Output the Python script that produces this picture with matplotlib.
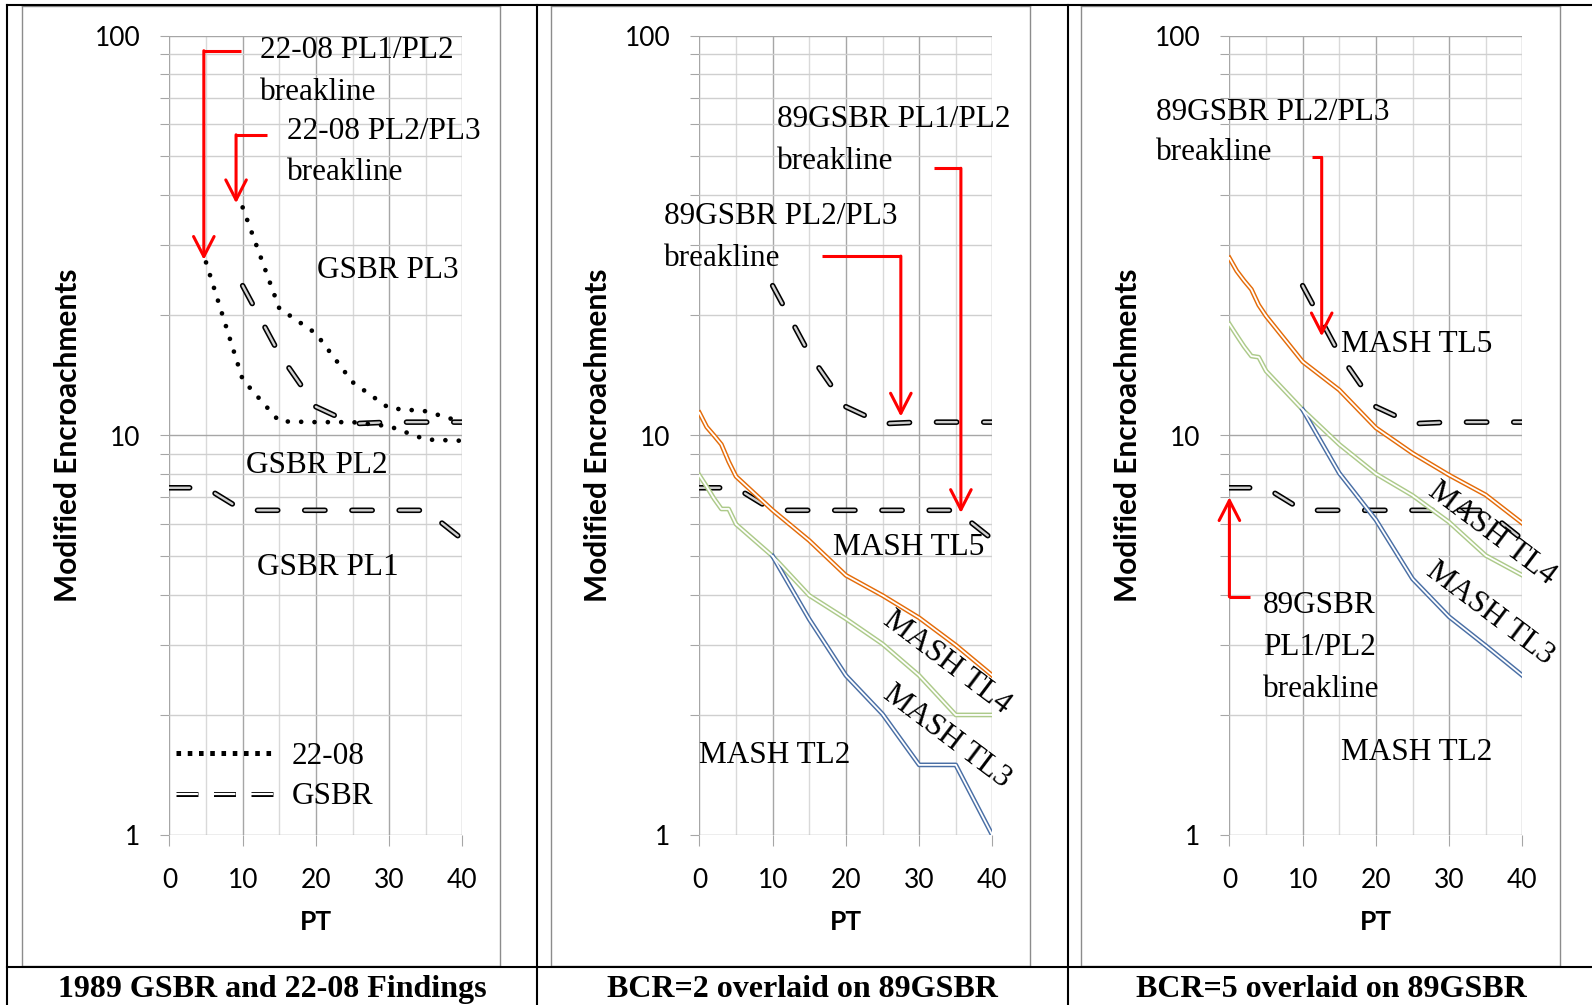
import matplotlib
matplotlib.use("Agg")
import matplotlib.pyplot as plt
from matplotlib.lines import Line2D
from matplotlib.ticker import FixedLocator, NullFormatter, LogLocator
from matplotlib.legend_handler import HandlerTuple

plt.rcParams['lines.scale_dashes'] = False
plt.rcParams['font.family'] = ['Lato', 'DejaVu Sans']

# ---------------- data ----------------
pt_gsbr12 = [0, 5, 10, 15, 20, 25, 30, 35, 40]
gsbr_pl1_pl2 = [7.4, 7.4, 6.5, 6.5, 6.5, 6.5, 6.5, 6.5, 5.5]
pt_gsbr23 = [10, 15, 20, 25, 30, 35, 40]
gsbr_pl2_pl3 = [23.7, 16.0, 11.8, 10.7, 10.8, 10.8, 10.8]

pt_2208_a = [5, 10, 15, 20, 25, 30, 35, 40]
r2208_pl1_pl2 = [27.1, 13.8, 10.85, 10.8, 10.8, 10.55, 9.77, 9.7]
pt_2208_b = [10, 15, 20, 25, 30, 35, 40]
r2208_pl2_pl3 = [37.2, 20.8, 18.0, 13.6, 11.7, 11.5, 10.8]

pt_mash = [0, 1, 2, 3, 4, 5, 10, 15, 20, 25, 30, 35, 40]
pt_tl23 = [10, 15, 20, 25, 30, 35, 40]
bcr2_tl45 = [11.4, 10.5, 10.0, 9.5, 8.6, 7.9, 6.5, 5.46, 4.47, 3.98, 3.50, 2.99, 2.51]
bcr2_tl34 = [7.95, 7.45, 6.95, 6.55, 6.55, 6.0, 4.99, 3.98, 3.48, 3.01, 2.51, 2.0, 2.0]
bcr2_tl23 = [4.99, 3.47, 2.51, 2.01, 1.50, 1.50, 1.0]
bcr5_tl45 = [27.8, 25.8, 24.4, 23.2, 21.2, 19.9, 15.3, 13.0, 10.45, 9.03, 7.96, 7.1, 6.03]
bcr5_tl34 = [19.0, 17.8, 16.7, 15.8, 15.7, 14.5, 11.6, 9.5, 8.02, 7.08, 6.07, 5.01, 4.47]
bcr5_tl23 = [11.6, 8.05, 6.15, 4.38, 3.52, 2.98, 2.51]

x_ticks = [0, 10, 20, 30, 40]
x_minor = [5, 15, 25, 35]
y_ticks = [1, 10, 100]
y_tick_labels = ['1', '10', '100']
captions = ['1989 GSBR and 22-08 Findings',
            'BCR=2 overlaid on 89GSBR',
            'BCR=5 overlaid on 89GSBR']

C_ORANGE = '#E46C0A'
C_GREEN = '#ADCA8A'
C_BLUE = '#4A6FA5'
C_RED = '#FF0000'
SERIF = ['Liberation Serif', 'DejaVu Serif']
ANN_FS = 22.5

W, H, DPI = 1592, 1005, 100
fig = plt.figure(figsize=(W / DPI, H / DPI), dpi=DPI)
fig.patch.set_facecolor('white')


def fx(px):
    return px / W


def fy(py):
    return 1 - py / H


# ---------------- table / frames ----------------
def fline(x0, y0, x1, y1, color='black', lw=1.5):
    fig.add_artist(Line2D([fx(x0), fx(x1)], [fy(y0), fy(y1)], transform=fig.transFigure,
                          color=color, lw=lw, solid_capstyle='projecting'))


for l, r in [(21.7, 500), (550.8, 1030), (1081, 1560)]:
    for seg in [(l, 6.5, r, 6.5), (l, 965.5, r, 965.5), (l, 6.5, l, 965.5), (r, 6.5, r, 965.5)]:
        fline(*seg, color='#8c8c8c', lw=1.0)

fline(6.5, 5, 1600, 5)
fline(6.5, 5, 6.5, 1010)
fline(537, 5, 537, 1010)
fline(1067.5, 5, 1067.5, 1010)
fline(6.5, 967, 1600, 967)

for cx, cap in zip([272, 802, 1331], captions):
    fig.text(fx(cx), fy(996.5), cap, ha='center', va='baseline', family=SERIF,
             weight='bold', fontsize=23)

# ---------------- axes ----------------
axes = []
for i in range(3):
    left = 169.4 + 530 * i
    ax = fig.add_axes([fx(left), fy(835.3), 293 / W, (835.3 - 35.7) / H])
    ax.set_yscale('log')
    ax.set_xlim(0, 40)
    ax.set_ylim(1, 100)
    ax.set_xticks(x_ticks)
    ax.xaxis.set_minor_locator(FixedLocator(x_minor))
    ax.set_yticks(y_ticks)
    ax.set_yticklabels(y_tick_labels)
    ax.yaxis.set_minor_locator(LogLocator(base=10, subs=range(2, 10)))
    ax.yaxis.set_minor_formatter(NullFormatter())
    for s in ax.spines.values():
        s.set_visible(False)
    ax.set_axisbelow(True)
    ax.xaxis.grid(True, which='major', color='#a6a6a6', lw=1.0)
    ax.xaxis.grid(True, which='minor', color='#d9d9d9', lw=1.0)
    ax.yaxis.grid(True, which='major', color='#a6a6a6', lw=1.0)
    ax.yaxis.grid(True, which='minor', color='#cfcfcf', lw=1.0)
    ax.tick_params(axis='y', which='both', direction='out', length=6.5, width=0.8,
                   color='#a6a6a6', pad=14.5, labelsize=19)
    ax.tick_params(axis='x', which='major', direction='out', length=8, width=0.8,
                   color='#a6a6a6', pad=15.5, labelsize=19)
    ax.tick_params(axis='x', which='minor', length=0)
    ax.set_ylabel('Modified Encroachments', fontsize=21.5, fontweight='bold', va='center')
    ax.yaxis.set_label_coords(-0.346, 0.5)
    ax.set_xlabel('PT', fontsize=19, fontweight='bold', va='center')
    ax.xaxis.set_label_coords(0.5, -0.1084)
    axes.append(ax)


def gsbr_line(ax, x, y, dashes=(14.6, 19.4)):
    a = ax.plot(x, y, color='black', lw=4.0, dashes=dashes, dash_capstyle='round',
                zorder=3)[0]
    b = ax.plot(x, y, color='#d0d0d0', lw=1.7, dashes=dashes, dash_capstyle='round',
                zorder=3.1)[0]
    return a, b


def dotted_line(ax, x, y):
    return ax.plot(x, y, color='black', lw=3.4, dashes=(0.01, 9.6),
                   dash_capstyle='round', zorder=3.5)[0]


def mash_line(ax, x, y, c):
    ax.plot(x, y, color=c, lw=3.4, zorder=4)
    ax.plot(x, y, color='white', lw=1.3, zorder=4.1)


def red_arrow(ax, start, corner, tip):
    ax.plot([start[0], corner[0]], [start[1], corner[1]], color=C_RED, lw=2.2,
            solid_capstyle='butt', zorder=6)
    ax.annotate('', xy=tip, xytext=corner,
                arrowprops=dict(arrowstyle='->,head_length=1.44,head_width=0.74',
                                color=C_RED, lw=2.2, shrinkA=0, shrinkB=0,
                                mutation_scale=10), zorder=6)


def txt(ax, x, y, s, **kw):
    ax.text(x, y, s, family=SERIF, fontsize=ANN_FS, va='baseline', zorder=7, **kw)


# ---------------- panel 1 ----------------
ax = axes[0]
gsbr_line(ax, pt_gsbr12, gsbr_pl1_pl2)
gsbr_line(ax, pt_gsbr23, gsbr_pl2_pl3)
dotted_line(ax, pt_2208_a, r2208_pl1_pl2)
dotted_line(ax, pt_2208_b, r2208_pl2_pl3)
red_arrow(ax, (9.8, 91.7), (4.7, 91.7), (4.7, 27.5))
red_arrow(ax, (13.3, 56.5), (9.1, 56.5), (9.1, 38.1))
txt(ax, 12.4, 87.8, '22-08 PL1/PL2')
txt(ax, 12.4, 69.0, 'breakline')
txt(ax, 16.0, 55.1, '22-08 PL2/PL3')
txt(ax, 16.0, 43.6, 'breakline')
txt(ax, 20.2, 24.7, 'GSBR PL3')
txt(ax, 10.5, 8.05, 'GSBR PL2')
txt(ax, 12.0, 4.48, 'GSBR PL1')

h_dot = Line2D([], [], color='black', lw=3.6, dashes=(3.3, 4.8), dash_capstyle='butt')
h_g1 = Line2D([], [], color='black', lw=3.6, dashes=(15.8, 11.2), dash_capstyle='butt')
h_g2 = Line2D([], [], color='white', lw=1.6, dashes=(15.8, 11.2), dash_capstyle='butt')
leg = ax.legend([h_dot, (h_g1, h_g2)], ['22-08', 'GSBR'],
                handler_map={tuple: HandlerTuple(ndivide=1)},
                loc='lower left', bbox_to_anchor=(0.0, 0.022), frameon=False,
                prop={'family': SERIF, 'size': ANN_FS}, handlelength=3.1,
                handletextpad=0.6, labelspacing=0.37, borderaxespad=0, borderpad=0.2)
leg.set_zorder(8)

# ---------------- panel 2 ----------------
ax = axes[1]
gsbr_line(ax, pt_gsbr12, gsbr_pl1_pl2)
gsbr_line(ax, pt_gsbr23, gsbr_pl2_pl3)
mash_line(ax, pt_mash, bcr2_tl34, C_GREEN)
mash_line(ax, pt_tl23, bcr2_tl23, C_BLUE)
mash_line(ax, pt_mash, bcr2_tl45, C_ORANGE)
red_arrow(ax, (16.7, 28.1), (27.5, 28.1), (27.5, 11.15))
red_arrow(ax, (32.0, 46.6), (35.7, 46.6), (35.7, 6.4))
txt(ax, 10.6, 59.2, '89GSBR PL1/PL2')
txt(ax, 10.6, 46.3, 'breakline')
txt(ax, -4.9, 33.8, '89GSBR PL2/PL3')
txt(ax, -4.9, 26.5, 'breakline')
txt(ax, 18.3, 5.03, 'MASH TL5')
txt(ax, 0.0, 1.515, 'MASH TL2')
ax.text(33.8, 2.70, 'MASH TL4', family=SERIF, fontsize=ANN_FS, rotation=-37,
        rotation_mode='anchor', ha='center', va='center', zorder=7)
ax.text(33.8, 1.77, 'MASH TL3', family=SERIF, fontsize=ANN_FS, rotation=-37,
        rotation_mode='anchor', ha='center', va='center', zorder=7)

# ---------------- panel 3 ----------------
ax = axes[2]
gsbr_line(ax, pt_gsbr12, gsbr_pl1_pl2)
gsbr_line(ax, pt_gsbr23, gsbr_pl2_pl3)
mash_line(ax, pt_mash, bcr5_tl34, C_GREEN)
mash_line(ax, pt_tl23, bcr5_tl23, C_BLUE)
mash_line(ax, pt_mash, bcr5_tl45, C_ORANGE)
red_arrow(ax, (11.3, 49.6), (12.6, 49.6), (12.6, 17.7))
red_arrow(ax, (2.8, 3.95), (0.0, 3.95), (0.0, 7.01))
txt(ax, -10.0, 61.5, '89GSBR PL2/PL3')
txt(ax, -10.0, 48.9, 'breakline')
txt(ax, 15.3, 16.2, 'MASH TL5')
txt(ax, 4.55, 3.59, '89GSBR')
txt(ax, 4.55, 2.83, 'PL1/PL2')
txt(ax, 4.55, 2.22, 'breakline')
txt(ax, 15.3, 1.545, 'MASH TL2')
ax.text(35.8, 5.70, 'MASH TL4', family=SERIF, fontsize=ANN_FS, rotation=-37,
        rotation_mode='anchor', ha='center', va='center', zorder=7)
ax.text(35.6, 3.59, 'MASH TL3', family=SERIF, fontsize=ANN_FS, rotation=-37,
        rotation_mode='anchor', ha='center', va='center', zorder=7)

fig.savefig('out.png', dpi=DPI, facecolor='white')
